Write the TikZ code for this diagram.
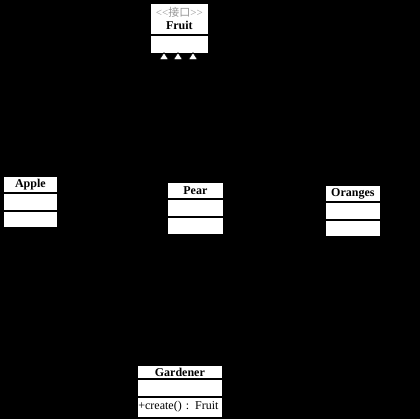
\documentclass[tikz,border=0pt]{standalone}
\usepackage{fontspec}
\setmainfont{Liberation Serif}
\newfontfamily\cjkfont{Noto Sans CJK SC}
\usepackage{tikz}
\usetikzlibrary{arrows.meta, positioning}
\definecolor{stereogray}{RGB}{150,150,150}
\tikzset{
  classname/.style={rectangle, draw=black, fill=white, line width=0.8pt,
    inner xsep=1pt, inner ysep=0pt, font=\fontsize{12}{13}\selectfont\bfseries, anchor=north west},
  classpart/.style={rectangle, draw=black, fill=white, line width=0.8pt,
    inner xsep=1pt, inner ysep=0pt, font=\fontsize{12}{13}\selectfont},
  inherit/.style={draw=black, line width=0.6pt,
    -{Triangle[length=8pt, width=10pt, fill=white]}}
}

\begin{document}
\begin{tikzpicture}[x=1pt, y=-1pt]
  \fill[black] (0,0) rectangle (420,419);
  \useasboundingbox (0,0) rectangle (420,419);

  % interface
  \node[classname, minimum width=58pt, minimum height=31pt, align=center] (fruit) at (150,3)
    {{\color{stereogray}\fontsize{11}{12}\selectfont\mdseries<{}<{\cjkfont 接口}>{}>}\\Fruit};
  \node[classpart, minimum width=58pt, minimum height=18pt, below=0pt of fruit] (fruit attr) {};
  \coordinate (tipA) at (164,52);
  \coordinate (tipP) at (178,52);
  \coordinate (tipO) at (193,52);

  % Apple
  \node[classname, minimum width=54pt, minimum height=16pt] (apple) at (3,176) {Apple};
  \node[classpart, minimum width=54pt, minimum height=17pt, below=0pt of apple] (apple attr) {};
  \node[classpart, minimum width=54pt, minimum height=16pt, below=0pt of apple attr] (apple ops) {};

  % Pear
  \node[classname, minimum width=56pt, minimum height=16pt] (pear) at (167,182) {Pear};
  \node[classpart, minimum width=56pt, minimum height=17pt, below=0pt of pear] (pear attr) {};
  \node[classpart, minimum width=56pt, minimum height=17pt, below=0pt of pear attr] (pear ops) {};

  % Oranges
  \node[classname, minimum width=55pt, minimum height=16pt] (oranges) at (325,185) {Oranges};
  \node[classpart, minimum width=55pt, minimum height=17pt, below=0pt of oranges] (oranges attr) {};
  \node[classpart, minimum width=55pt, minimum height=16pt, below=0pt of oranges attr] (oranges ops) {};

  % Gardener
  \node[classname, minimum width=85pt, minimum height=13pt] (gardener) at (137,365) {Gardener};
  \node[classpart, minimum width=85pt, minimum height=17pt, below=0pt of gardener] (gardener attr) {};
  \node[classpart, text width=83pt, align=left, minimum height=20pt, below=0pt of gardener attr] (gardener ops) {\mbox{+create() : Fruit}};

  % realization
  \draw[inherit] (apple.north) -- ++(0,-40) -| (tipA);
  \draw[inherit] (pear.north) -- ++(0,-40) -| (tipP);
  \draw[inherit] (oranges.north) -- ++(0,-40) -| (tipO);
\end{tikzpicture}
\end{document}
